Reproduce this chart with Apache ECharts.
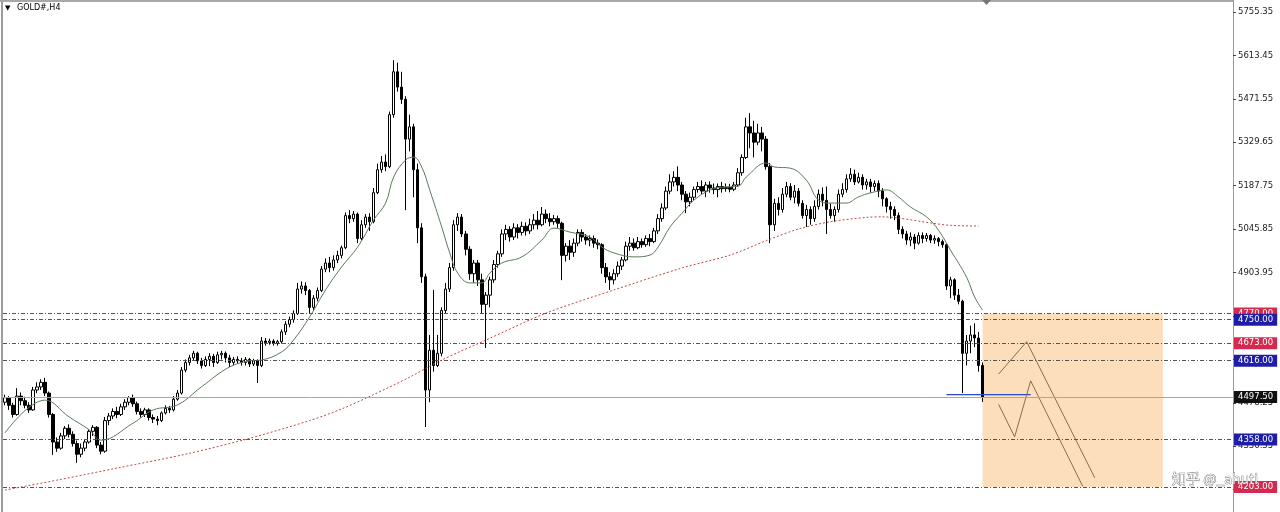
<!DOCTYPE html>
<html><head><meta charset="utf-8">
<script src="https://cdn.jsdelivr.net/npm/echarts@6/dist/echarts.min.js"></script>
<style>html,body{margin:0;padding:0;background:#fff}#c{width:1280px;height:512px}</style>
</head><body><div id="c"></div>
<script>
// ---------------- data ----------------
const symbolName = 'GOLD#,H4';
const watermark = '知乎 @_ahuti';
const slotCount = 307; // candle slots incl. empty future area
const categories = Array.from({length: slotCount}, (_, i) => String(i));
const tickValues = [4194.45, 4336.35, 4478.25, 4620.15, 4762.05, 4903.95, 5045.85, 5187.75, 5329.65, 5471.55, 5613.45, 5755.35];
// [open, close, low, high]
const candles = [
[4480,4495,4470,4505],[4495,4470,4455,4500],[4470,4440,4430,4478],[4440,4500,4436,4526],[4500,4485,4470,4512],
[4485,4470,4460,4498],[4470,4455,4445,4480],[4455,4520,4452,4530],[4520,4530,4510,4545],[4530,4545,4520,4555],
[4545,4510,4500,4560],[4510,4440,4430,4515],[4440,4350,4308,4445],[4350,4330,4318,4365],[4330,4370,4325,4380],
[4370,4395,4360,4402],[4395,4375,4365,4408],[4375,4345,4335,4385],[4345,4310,4282,4355],[4310,4330,4300,4345],
[4330,4350,4320,4360],[4350,4385,4345,4392],[4385,4398,4370,4405],[4398,4340,4330,4402],[4340,4320,4310,4350],
[4320,4420,4315,4432],[4420,4435,4405,4445],[4435,4450,4425,4460],[4450,4440,4428,4465],[4440,4465,4435,4475],
[4465,4480,4455,4490],[4480,4495,4470,4500],[4495,4475,4465,4505],[4475,4450,4440,4482],[4450,4440,4430,4460],
[4440,4455,4432,4462],[4455,4430,4420,4460],[4430,4425,4412,4440],[4425,4420,4405,4435],[4420,4445,4415,4450],
[4445,4460,4440,4470],[4460,4455,4445,4468],[4455,4490,4450,4500],[4490,4510,4485,4520],[4510,4585,4505,4595],
[4585,4610,4578,4620],[4610,4625,4600,4635],[4625,4640,4615,4648],[4640,4615,4605,4645],[4615,4600,4590,4625],
[4600,4620,4595,4630],[4620,4630,4598,4640],[4630,4610,4595,4638],[4610,4635,4605,4645],[4635,4640,4620,4648],
[4640,4625,4610,4646],[4625,4610,4595,4635],[4610,4620,4600,4628],[4620,4615,4605,4630],[4615,4610,4600,4625],
[4610,4620,4600,4628],[4620,4605,4595,4625],[4605,4615,4598,4622],[4615,4600,4543,4620],[4600,4680,4595,4693],
[4680,4675,4665,4690],[4675,4680,4668,4688],[4680,4672,4665,4686],[4672,4678,4665,4684],[4678,4710,4672,4718],
[4710,4735,4700,4745],[4735,4750,4725,4760],[4750,4770,4740,4780],[4770,4850,4765,4870],[4850,4860,4835,4875],
[4860,4845,4830,4872],[4845,4790,4771,4850],[4790,4820,4780,4830],[4820,4845,4810,4855],[4845,4915,4840,4925],
[4915,4935,4905,4950],[4935,4920,4905,4955],[4920,4945,4910,4960],[4945,4960,4935,4975],[4960,4985,4950,4992],
[4985,5090,4980,5100],[5090,5080,5065,5108],[5080,5095,5070,5105],[5095,5015,5000,5100],[5015,5060,5010,5075],
[5060,5085,5050,5095],[5085,5070,5040,5098],[5070,5165,5065,5180],[5165,5240,5160,5260],[5240,5265,5230,5285],
[5265,5250,5235,5290],[5250,5420,5245,5430],[5420,5560,5410,5598],[5560,5510,5495,5590],[5510,5470,5455,5560],
[5470,5340,5108,5480],[5340,5380,5300,5420],[5380,5240,5150,5390],[5240,5050,5000,5260],[5050,4890,4870,5065],
[4890,4520,4399,4900],[4520,4650,4480,4700],[4650,4600,4580,4847],[4600,4640,4595,4700],[4640,4780,4630,4790],
[4780,4850,4770,4870],[4850,4920,4840,4935],[4920,5060,4910,5075],[5060,5085,5040,5098],[5085,5030,5020,5095],
[5030,4980,4960,5040],[4980,4900,4880,4990],[4900,4935,4870,4945],[4935,4880,4860,4945],[4880,4800,4771,4900],
[4800,4830,4657,4840],[4830,4880,4790,4890],[4880,4930,4870,4945],[4930,4965,4920,4975],[4965,5030,4955,5045],
[5030,5045,5010,5060],[5045,5020,5005,5055],[5020,5050,5010,5065],[5050,5035,5015,5062],[5035,5055,5025,5070],
[5055,5040,5025,5068],[5040,5060,5030,5080],[5060,5075,5045,5095],[5075,5060,5045,5105],[5060,5095,5055,5118],
[5095,5080,5065,5110],[5080,5070,5055,5098],[5070,5080,5060,5092],[5080,5065,5050,5090],[5065,4960,4879,5070],
[4960,4990,4940,5000],[4990,4970,4945,5010],[4970,5000,4955,5015],[5000,5035,4990,5045],[5035,5020,5005,5045],
[5020,5010,4995,5030],[5010,5015,4990,5025],[5015,5000,4985,5025],[5000,4995,4980,5012],[4995,4920,4900,5000],
[4920,4890,4870,4935],[4890,4880,4847,4905],[4880,4900,4865,4915],[4900,4925,4890,4940],[4925,4945,4912,4955],
[4945,4990,4940,5005],[4990,5000,4975,5020],[5000,4985,4975,5015],[4985,5005,4980,5020],[5005,4995,4985,5015],
[4995,5015,4988,5025],[5015,5005,4990,5030],[5005,5040,5000,5050],[5040,5080,5030,5095],[5080,5115,5070,5130],
[5115,5170,5108,5185],[5170,5200,5160,5225],[5200,5215,5185,5235],[5215,5190,5170,5251],[5190,5160,5140,5200],
[5160,5135,5098,5170],[5135,5150,5120,5165],[5150,5175,5140,5185],[5175,5185,5165,5200],[5185,5170,5160,5205],
[5170,5190,5150,5200],[5190,5180,5165,5202],[5180,5175,5160,5195],[5175,5185,5150,5195],[5185,5178,5165,5200],
[5178,5182,5168,5195],[5182,5176,5166,5194],[5176,5190,5170,5200],[5190,5230,5185,5245],[5230,5280,5220,5290],
[5280,5380,5275,5410],[5380,5360,5310,5425],[5360,5330,5280,5400],[5330,5360,5320,5390],[5360,5340,5300,5380],
[5340,5250,5240,5350],[5250,5060,5000,5262],[5060,5130,5040,5145],[5130,5110,5090,5150],[5110,5160,5100,5180],
[5160,5185,5150,5200],[5185,5150,5140,5196],[5150,5170,5130,5190],[5170,5130,5120,5180],[5130,5090,5080,5140],
[5090,5110,5053,5125],[5110,5080,5060,5120],[5080,5120,5070,5140],[5120,5160,5110,5175],[5160,5140,5120,5182],
[5140,5110,5030,5185],[5110,5090,5080,5130],[5090,5110,5070,5120],[5110,5160,5100,5175],[5160,5175,5150,5196],
[5175,5210,5165,5225],[5210,5225,5200,5245],[5225,5200,5190,5240],[5200,5215,5195,5230],[5215,5190,5175,5225],
[5190,5200,5175,5210],[5200,5185,5165,5210],[5185,5195,5170,5205],[5195,5170,5150,5205],[5170,5145,5120,5180],
[5145,5120,5100,5150],[5120,5110,5080,5135],[5110,5090,5075,5120],[5090,5045,5030,5100],[5045,5030,5015,5055],
[5030,5010,4995,5040],[5010,5020,4990,5035],[5020,5000,4980,5030],[5000,5025,4995,5035],[5025,5015,5000,5035],
[5015,5025,5005,5033],[5025,5010,5000,5030],[5010,5015,4998,5025],[5015,5005,4990,5020],[5005,4995,4985,5012],
[4995,4860,4847,5000],[4860,4880,4820,4890],[4880,4830,4814,4885],[4830,4810,4800,4850],[4810,4640,4510,4815],
[4640,4680,4600,4700],[4680,4700,4640,4730],[4700,4690,4660,4738],[4690,4600,4580,4710],[4600,4497.5,4481,4610]
];
// moving averages: [slot index, price]
const maFast = [[0,4380],[10,4487],[16,4432],[21,4390],[24,4356],[32,4412],[37,4455],[43,4471],[49,4530],[56,4595],
[61,4615],[64,4618],[69,4644],[72,4683],[76,4758],[80,4847],[84,4922],[88,4987],[92,5076],[95,5131],[97,5216],
[100,5272],[102,5281],[104,5249],[106,5174],[109,5053],[111,4968],[113,4902],[116,4870],[119,4870],[121,4902],
[124,4935],[129,4955],[134,5010],[137,5049],[141,5036],[146,5020],[149,4987],[152,4968],[157,4955],[161,4961],
[163,4987],[166,5053],[169,5098],[172,5141],[176,5174],[179,5183],[183,5186],[185,5216],[190,5262],[192,5249],
[196,5245],[200,5206],[203,5141],[206,5131],[210,5131],[213,5151],[216,5164],[220,5174],[223,5151],[226,5118],
[230,5086],[233,5042],[236,4977],[240,4889],[242,4824],[244,4781]];
const maSlow = [[0,4193],[14,4228],[28,4265],[45,4310],[61,4362],[76,4420],[84,4458],[92,4505],[101,4562],
[109,4618],[120,4683],[135,4771],[152,4847],[169,4919],[181,4961],[190,5008],[198,5046],[206,5070],
[215,5084],[219,5086],[223,5082],[231,5066],[236,5058],[243,5056]];
const levelValues = [4770, 4750, 4673, 4616, 4358, 4203];
const levelKinds  = ['sell', 'buy', 'sell', 'buy', 'buy', 'sell'];
const lastPrice = 4497.5;
const supportSegment = [[235,4505],[256,4505]];
const zoneBox = [[244,4770],[289,4203]];
const pathA = [[248,4572],[255,4678],[272,4233]];
const pathB = [[248,4473],[252,4367],[256,4550],[269,4205]];

// ---------------- chart ----------------
const FONT = 'DejaVu Sans';
const kindColor = {sell:'#d42a50', buy:'#1d1da8'};
const dashDot = [4,2,1,2];
const boxLabel = (text, bg) => ({show:true, position:'end', distance:1, formatter:text,
  backgroundColor:bg, color:'#fff', padding:[1,4,1,4], fontSize:8.5, fontFamily:FONT, lineHeight:10});

const levelLines = levelValues.map((v, i) => ({
  yAxis: v,
  lineStyle: {color:'#555', width:1, type: dashDot},
  label: boxLabel(v.toFixed(2), kindColor[levelKinds[i]])
}));
levelLines.push({
  yAxis: lastPrice,
  lineStyle: {color:'#a8a8a8', width:1, type:'solid'},
  label: boxLabel(lastPrice.toFixed(2), '#111')
});

const chart = echarts.init(document.getElementById('c'), null, {renderer:'canvas'});
chart.setOption({
  animation:false,
  backgroundColor:'#fff',
  grid:{left:3, right:47, top:0, bottom:0},
  xAxis:{type:'category', data:categories, show:false, boundaryGap:true},
  yAxis:{type:'value', position:'right', min:4121.3, max:5794.6,
    axisLine:{show:true, lineStyle:{color:'#9a9a9a', width:1}},
    axisTick:{show:true, customValues:tickValues, length:3, lineStyle:{color:'#444'}},
    axisLabel:{show:true, customValues:tickValues, formatter:v => v.toFixed(2), color:'#222',
      fontSize:8.5, fontFamily:FONT, margin:5},
    splitLine:{show:false}},
  series:[
    {type:'candlestick', data:candles, barWidth:3, z:3,
      itemStyle:{color:'#fff', color0:'#000', borderColor:'#000', borderColor0:'#000', borderWidth:1},
      markArea:{silent:true, z:1, itemStyle:{color:'rgba(250,200,140,0.6)'},
        data:[[{xAxis:zoneBox[0][0], yAxis:zoneBox[0][1]},{xAxis:zoneBox[1][0], yAxis:zoneBox[1][1]}]]},
      markLine:{silent:true, z:5, symbol:['none','none'], data:levelLines}
    },
    {type:'line', data:maFast, smooth:0.4, symbol:'none', z:4, lineStyle:{color:'#5b7a5b', width:1}},
    {type:'line', data:maSlow, smooth:0.3, symbol:'none', z:4, lineStyle:{color:'#c24848', width:1, type:[2,2]}},
    {type:'line', data:supportSegment, symbol:'none', z:4, lineStyle:{color:'#2a48d0', width:1.2}},
    {type:'line', data:pathA, symbol:'none', z:4, lineStyle:{color:'#8c6b4e', width:1}},
    {type:'line', data:pathB, symbol:'none', z:4, lineStyle:{color:'#8c6b4e', width:1}}
  ],
  graphic:[
    {type:'rect', shape:{x:1, y:0, width:2, height:512}, style:{fill:'#9c9c9c'}, z:10},
    {type:'rect', shape:{x:0, y:0, width:1233, height:2}, style:{fill:'#a8a8a8'}, z:10},
    {type:'polygon', shape:{points:[[982,0],[991,0],[986.5,5]]}, style:{fill:'#777'}, z:10},
    {type:'text', x:5, y:8, style:{text:'▼', fill:'#000', font:'7px "DejaVu Sans"', verticalAlign:'middle'}, z:10},
    {type:'text', x:17, y:8, style:{text:symbolName, fill:'#000', font:'8px "DejaVu Sans"', verticalAlign:'middle'}, z:10},
    {type:'text', x:1172, y:479, style:{text:watermark, fill:'rgba(255,255,255,0.85)', stroke:'#666', lineWidth:0.7,
      font:'14px "Noto Sans CJK SC"', verticalAlign:'middle'}, z:10}
  ]
});
</script></body></html>
